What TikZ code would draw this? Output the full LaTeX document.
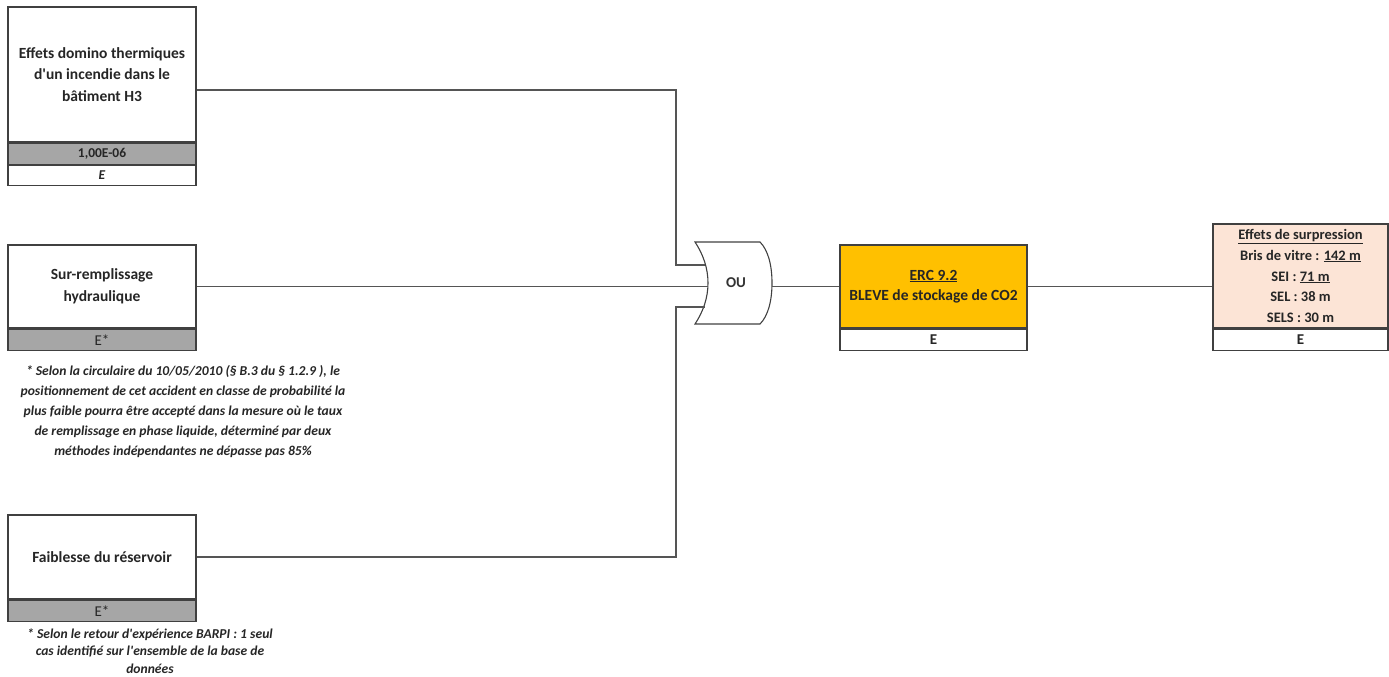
\documentclass[tikz,border=0pt]{standalone}
\usepackage{fontspec}
\setmainfont{Carlito}[Ligatures=TeXOff]
\usetikzlibrary{calc}
\definecolor{bandgray}{RGB}{166,166,166}
\definecolor{ercorange}{RGB}{255,192,0}
\definecolor{fxpink}{RGB}{252,228,214}
\definecolor{edgegray}{RGB}{64,64,64}
\definecolor{wiregray}{RGB}{85,85,85}
\begin{document}
\begin{tikzpicture}[x=1pt, y=-1pt,
    evbox/.style={draw=edgegray, line width=1.3pt, fill=white, minimum width=188pt,
        inner sep=0pt, align=center, text=black!85,
        font=\fontsize{15.5}{21.5}\selectfont\bfseries},
    band/.style={evbox, anchor=north, minimum height=21pt,
        font=\fontsize{13.5}{16}\selectfont\bfseries},
    link/.style={draw=wiregray, line width=1.3pt},
    note/.style={align=center, text=black!85,
        font=\fontsize{13.6}{20}\selectfont\bfseries\itshape}]
    \useasboundingbox (0,0) rectangle (1389,677);

    % initiating events
    \node[evbox, minimum height=135pt] (h3) at (102,74.5)
        {Effets domino thermiques\\d'un incendie dans le\\bâtiment H3};
    \node[band, fill=bandgray] (h3p) at (h3.south) {1,00E-06};
    \node[band, minimum height=20pt, font=\fontsize{13.5}{16}\selectfont\bfseries\itshape] (h3c) at (h3p.south) {E};

    \node[evbox, minimum height=83pt] (sr) at (102,286.5)
        {Sur-remplissage\\hydraulique};
    \node[band, fill=bandgray, font=\fontsize{15}{16}\selectfont] (srp) at (sr.south) {E*};
    \node[note] (srnote) at (183,412)
        {* Selon la circulaire du 10/05/2010 (§ B.3 du § 1.2.9 ), le\\
         positionnement de cet accident en classe de probabilité la\\
         plus faible pourra être accepté dans la mesure où le taux\\
         de remplissage en phase liquide, déterminé par deux\\
         méthodes indépendantes ne dépasse pas 85\%};

    \node[evbox, minimum height=84pt] (fr) at (102,557) {Faiblesse du réservoir};
    \node[band, fill=bandgray, font=\fontsize{15}{16}\selectfont] (frp) at (fr.south) {E*};
    \node[note, font=\fontsize{13.6}{17.5}\selectfont\bfseries\itshape] (frnote) at (150,651)
        {* Selon le retour d'expérience BARPI : 1 seul\\
         cas identifié sur l'ensemble de la base de\\
         données};

    % OR gate
    \node[font=\fontsize{15}{16}\selectfont\bfseries, text=black!80] (ou) at (736,283) {OU};
    \draw[draw=edgegray, line width=1.1pt] (695,242) -- (760,242)
        .. controls (768,250) and (772,265) .. (772,283)
        .. controls (772,301) and (768,316) .. (760,324) -- (695,324)
        .. controls (703,312) and (708,298) .. (708,283)
        .. controls (708,268) and (703,254) .. (695,242) -- cycle;
    \coordinate (in1) at (705,265);
    \coordinate (in2) at (708,286.5);
    \coordinate (in3) at (705,307);
    \coordinate (out) at (772,286.5);

    % top event and effects
    \node[evbox, fill=ercorange, minimum width=187pt, minimum height=83pt] (erc) at (933.5,286.5)
        {\underline{ERC 9.2}\\[-1pt]BLEVE de stockage de CO2};
    \node[band, minimum width=187pt, font=\fontsize{15}{16}\selectfont\bfseries] (ercc) at (erc.south) {E};

    \node[evbox, fill=fxpink, minimum width=175pt, minimum height=104pt,
        font=\fontsize{14.5}{20.75}\selectfont\bfseries] (fx) at (1300.5,276)
        {\underline{Effets de surpression}\\Bris de vitre : \underline{142 m}\\
         SEI : \underline{71 m}\\SEL : 38 m\\SELS : 30 m};
    \node[band, minimum width=175pt, font=\fontsize{15}{16}\selectfont\bfseries] (fxc) at (fx.south) {E};

    % connectors
    \draw[link] (h3.east |- 0,90) -| ($(in1)+(-29,0)$) -- (in1);
    \draw[link] (sr.east) -- (in2);
    \draw[link] (fr.east) -| ($(in3)+(-29,0)$) -- (in3);
    \draw[link] (out) -- (erc.west);
    \draw[link] (erc.east) -- (erc.east -| fx.west);
\end{tikzpicture}
\end{document}
